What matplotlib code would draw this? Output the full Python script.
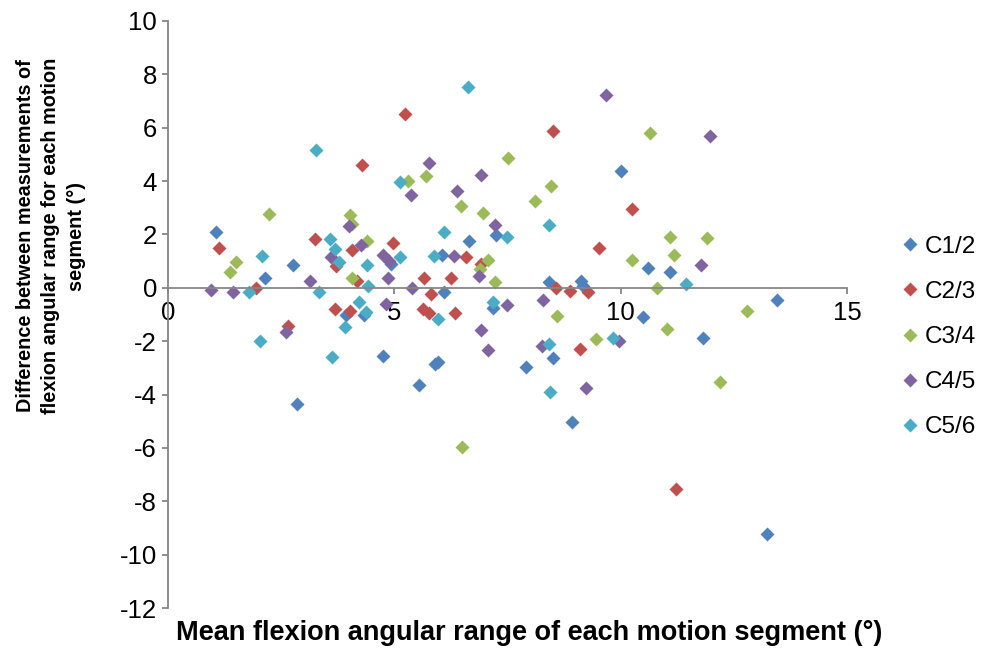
import matplotlib
matplotlib.use('Agg')
from matplotlib import pyplot as plt

# ---------- data ----------
series_names = ['C1/2', 'C2/3', 'C3/4', 'C4/5', 'C5/6']
colors = ['#4F81BD', '#C0504D', '#9BBB59', '#8064A2', '#4BACC6']

c12_x = [1.05, 2.14, 2.76, 4.93, 6.09, 6.06, 6.65, 7.24, 10.0, 10.61, 11.08, 8.42, 9.12, 9.17,
         13.45, 10.49, 11.81, 8.51, 7.90, 8.92, 13.24, 4.32, 3.94, 4.75, 2.85, 5.54, 5.89, 5.97, 7.17]
c12_y = [2.10, 0.37, 0.85, 0.89, -0.15, 1.24, 1.76, 1.97, 4.37, 0.73, 0.58, 0.20, 0.26, 0.07,
         -0.46, -1.11, -1.88, -2.64, -2.98, -5.02, -9.22, -1.02, -1.00, -2.55, -4.36, -3.63, -2.85, -2.77, -0.74]

c23_x = [5.24, 4.28, 1.13, 1.95, 3.24, 3.72, 4.07, 4.17, 4.97, 5.66, 5.80, 6.58, 6.92, 6.26,
         8.51, 10.24, 9.52, 8.57, 8.88, 9.28, 9.11, 11.22, 3.68, 4.01, 2.65, 5.63, 5.77, 6.33]
c23_y = [6.53, 4.62, 1.48, -0.02, 1.82, 0.82, 1.42, 0.26, 1.67, 0.35, -0.24, 1.14, 0.89, 0.35,
         5.86, 2.97, 1.51, -0.02, -0.13, -0.17, -2.30, -7.54, -0.80, -0.86, -1.42, -0.80, -0.95, -0.96]

c34_x = [5.71, 5.30, 6.48, 6.96, 7.51, 2.24, 1.50, 1.36, 4.01, 4.07, 4.39, 4.07, 7.07, 6.89, 7.22,
         10.65, 8.47, 8.10, 11.09, 11.90, 11.18, 10.26, 10.81, 8.60, 11.03, 12.79, 9.45, 12.20, 6.50]
c34_y = [4.19, 4.01, 3.07, 2.79, 4.88, 2.76, 0.97, 0.61, 2.72, 2.39, 1.76, 0.37, 1.04, 0.70, 0.23,
         5.81, 3.81, 3.26, 1.89, 1.86, 1.22, 1.04, -0.01, -1.05, -1.55, -0.86, -1.90, -3.52, -5.98]

c45_x = [5.77, 6.92, 5.36, 6.39, 0.95, 1.44, 3.13, 3.61, 4.00, 4.27, 4.76, 4.88, 4.86, 5.38, 6.32,
         6.87, 7.22, 9.67, 11.98, 11.78, 8.29, 7.48, 9.96, 8.27, 9.23, 4.82, 2.61, 6.92, 7.07]
c45_y = [4.66, 4.22, 3.47, 3.63, -0.09, -0.17, 0.25, 1.14, 2.30, 1.60, 1.22, 1.01, 0.35, 0.00, 1.20,
         0.45, 2.35, 7.22, 5.68, 0.86, -0.45, -0.63, -1.98, -2.17, -3.77, -0.61, -1.65, -1.57, -2.32]

c56_x = [6.63, 3.27, 5.12, 2.08, 1.78, 3.33, 3.57, 3.68, 3.78, 4.39, 4.42, 5.12, 5.88, 6.09,
         7.48, 8.42, 11.44, 9.82, 8.42, 8.44, 4.23, 4.38, 2.04, 3.92, 3.62, 5.96, 7.17]
c56_y = [7.53, 5.18, 3.95, 1.20, -0.17, -0.15, 1.82, 1.45, 0.97, 0.85, 0.07, 1.17, 1.20, 2.10,
         1.91, 2.35, 0.13, -1.88, -2.12, -3.92, -0.55, -0.92, -1.98, -1.48, -2.61, -1.15, -0.55]

xs = [c12_x, c23_x, c34_x, c45_x, c56_x]
ys = [c12_y, c23_y, c34_y, c45_y, c56_y]

x_ticks = [0, 5, 10, 15]
y_ticks = list(range(-12, 11, 2))

# ---------- plot ----------
plt.rcParams['font.family'] = ['Liberation Sans', 'DejaVu Sans']
plt.rcParams['axes.unicode_minus'] = False
grey = '#868686'

fig = plt.figure(figsize=(9.83, 6.48), dpi=100)
ax = fig.add_axes([168 / 983, 1 - 608 / 648, (847 - 168) / 983, (608 - 21) / 648])

for name, c, x, y in zip(series_names, colors, xs, ys):
    ax.plot(x, y, linestyle='none', marker='D', ms=6.8, mfc=c, mec='none', label=name, clip_on=False)

ax.set_xlim(0, 15)
ax.set_ylim(-12, 10)
ax.set_xticks(x_ticks)
ax.set_yticks(y_ticks)
ax.spines['bottom'].set_position(('data', 0))
ax.spines['top'].set_visible(False)
ax.spines['right'].set_visible(False)
for s in ['bottom', 'left']:
    ax.spines[s].set_color(grey)
    ax.spines[s].set_linewidth(1.3)
ax.tick_params(colors=grey, labelcolor='black', width=1.3, length=4.5, labelsize=18.5, direction='out')
ax.tick_params(axis='x', pad=5)

ax.set_xlabel('Mean flexion angular range of each motion segment (°)',
              fontsize=19.5, fontweight='bold')
ax.xaxis.set_label_coords(0.532, -0.02)

fig.text(51 / 983, 1 - 236 / 648,
         'Difference between measurements of\nflexion angular range for each motion\nsegment (°)',
         rotation=90, ha='center', va='center', multialignment='center',
         fontsize=14.3, fontweight='bold', linespacing=1.42)

ax.legend(loc='center left', bbox_to_anchor=(898 / 983, 1 - 337 / 648), bbox_transform=fig.transFigure,
          frameon=False, fontsize=17.5, handlelength=1.0, handletextpad=0.1, labelspacing=0.95,
          borderpad=0, borderaxespad=0, markerscale=1.0)

fig.savefig('out.png', dpi=100)
